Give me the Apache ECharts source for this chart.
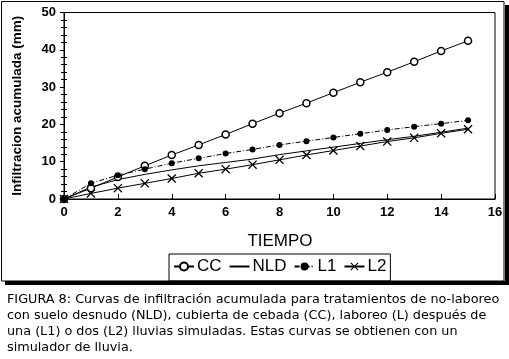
<!DOCTYPE html>
<html>
<head>
<meta charset="utf-8">
<script src="https://cdn.jsdelivr.net/npm/echarts@6/dist/echarts.min.js"></script>
<style>html,body{margin:0;padding:0;background:#fff;}#c{width:509px;height:359px;}</style>
</head>
<body>
<div id="c"></div>
<script>
const tiempo = [0,1,2,3,4,5,6,7,8,9,10,11,12,13,14,15];
const CC  = [0, 2.9, 5.9, 8.9, 11.8, 14.5, 17.3, 20.2, 23.0, 25.7, 28.5, 31.3, 34.0, 36.8, 39.7, 42.4];
const NLD = [0, 3.2, 5.2, 6.6, 7.8, 8.9, 9.8, 10.7, 11.9, 12.9, 13.9, 14.9, 15.9, 16.8, 17.9, 19.0];
const L1  = [0, 4.2, 6.4, 8.0, 9.6, 10.9, 12.2, 13.3, 14.5, 15.5, 16.5, 17.5, 18.5, 19.4, 20.2, 21.1];
const L2  = [0, 1.5, 2.9, 4.2, 5.5, 6.9, 8.0, 9.2, 10.5, 11.8, 13.0, 14.2, 15.4, 16.4, 17.6, 18.7];
const seriesNames = ['CC','NLD','L1','L2'];
const xTitle = 'TIEMPO';
const yTitle = 'Infiltracion acumulada (mm)';
const captionLines = [
  'FIGURA 8: Curvas de infiltración acumulada para tratamientos de no-laboreo',
  'con suelo desnudo (NLD), cubierta de cebada (CC), laboreo (L) después de',
  'una (L1) o dos (L2) lluvias simuladas. Estas curvas se obtienen con un',
  'simulador de lluvia.'
];

const pairs = arr => tiempo.map((t,i)=>[t, arr[i]]);
const F = '"Liberation Sans", Arial, sans-serif';
const FC = '"DejaVu Sans", sans-serif';
const xPath = 'path://M0,1 L1,0 L5,4 L9,0 L10,1 L6,5 L10,9 L9,10 L5,6 L1,10 L0,9 L4,5 Z';

const chart = echarts.init(document.getElementById('c'), null, {renderer:'canvas'});
const graphics = [
  {type:'rect', shape:{x:5, y:281, width:504, height:4}, style:{fill:'#000'}, silent:true, z:0},
  {type:'rect', shape:{x:505, y:5, width:4, height:280}, style:{fill:'#000'}, silent:true, z:0},
  {type:'rect', shape:{x:1.5, y:1.5, width:502.5, height:279.5}, style:{fill:'none', stroke:'#000', lineWidth:1}, silent:true, z:0},
  {type:'text', position:[280,241], style:{text:xTitle, font:'17px '+F, fill:'#000', textAlign:'center', textVerticalAlign:'middle'}}
];
captionLines.forEach((s,i)=>{
  graphics.push({type:'text', position:[7, 300 + i*16], style:{text:s, font:'12.8px '+FC, fill:'#000', textAlign:'left', textVerticalAlign:'middle'}});
});

chart.setOption({
  animation:false,
  backgroundColor:'#fff',
  grid:{left:64, right:14, top:12.5, bottom:160, show:true, borderColor:'#000', borderWidth:1, backgroundColor:'transparent'},
  legend:{
    left:169, top:254, orient:'horizontal',
    data:[{name:'CC'},{name:'NLD', itemStyle:{opacity:0}},{name:'L1'},{name:'L2'}],
    borderColor:'#000', borderWidth:1, padding:[4,4,6,4],
    itemWidth:20, itemHeight:10, itemGap:7,
    textStyle:{fontFamily:F, fontSize:17, color:'#000', padding:[0,0,0,-2]}
  },
  xAxis:{
    type:'value', min:0, max:16, interval:2,
    axisLine:{show:true, lineStyle:{color:'#000', width:1}},
    axisTick:{show:true, inside:true, length:5, lineStyle:{color:'#000'}},
    axisLabel:{fontFamily:F, fontSize:13, fontWeight:'bold', color:'#000', margin:7},
    splitLine:{show:false}
  },
  yAxis:[{
    type:'value', min:0, max:50, interval:10,
    name:yTitle, nameLocation:'middle', nameGap:40,
    nameTextStyle:{fontFamily:F, fontSize:13.5, fontWeight:'bold', color:'#000'},
    axisLine:{show:true, lineStyle:{color:'#000', width:1}},
    axisTick:{show:true, inside:false, length:4, lineStyle:{color:'#000'}},
    minorTick:{show:true, splitNumber:5, length:3, lineStyle:{color:'#000'}},
    axisLabel:{fontFamily:F, fontSize:13, fontWeight:'bold', color:'#000', margin:8},
    splitLine:{show:false}
  },{
    type:'value', min:0, max:50, interval:10, position:'left',
    axisLine:{show:false}, axisLabel:{show:false},
    axisTick:{show:false, inside:true},
    minorTick:{show:true, splitNumber:5, length:3, lineStyle:{color:'#000'}},
    splitLine:{show:false}
  }],
  series:[
    {name:'CC', type:'line', data:pairs(CC), symbol:'circle', symbolSize:7, showSymbol:true,
     lineStyle:{color:'#000', width:1}, itemStyle:{color:'#fff', borderColor:'#000', borderWidth:1.5}, z:3},
    {name:'NLD', type:'line', data:pairs(NLD), symbol:'none',
     lineStyle:{color:'#000', width:1}, itemStyle:{color:'#000'}, z:2},
    {name:'L1', type:'line', data:pairs(L1), symbol:'circle', symbolSize:6,
     lineStyle:{color:'#000', width:1, type:[5,2,1,2]}, itemStyle:{color:'#000', borderWidth:0}, z:3},
    {name:'L2', type:'line', data:pairs(L2), symbol:xPath, symbolSize:9,
     lineStyle:{color:'#000', width:1}, itemStyle:{color:'#000', borderWidth:0}, z:3}
  ],
  graphic:graphics
});
</script>
</body>
</html>
